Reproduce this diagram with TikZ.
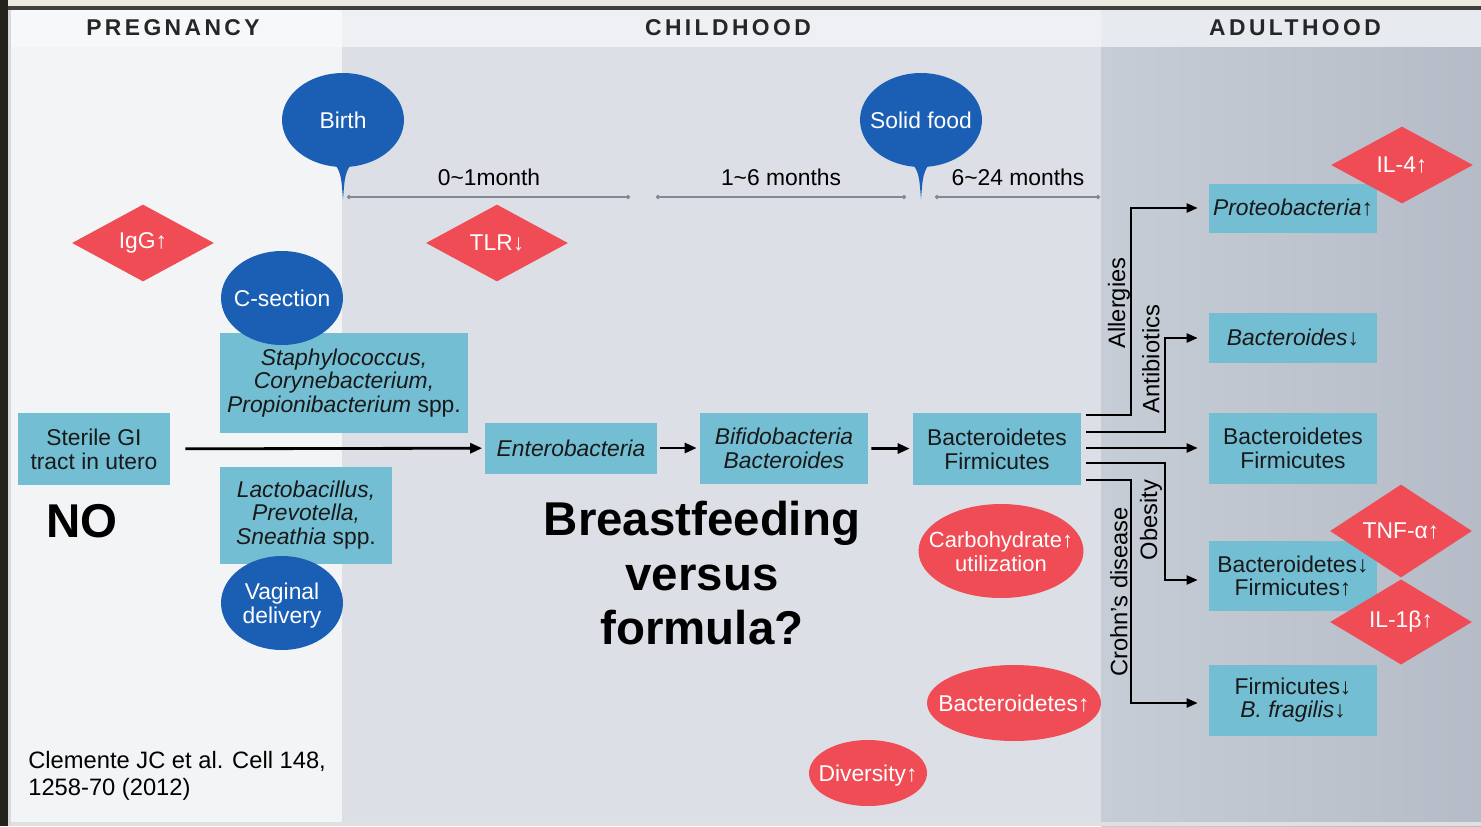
\documentclass[tikz,border=0pt]{standalone}
\usepackage{fontspec}
\setmainfont{Liberation Sans}
\usetikzlibrary{arrows.meta, positioning, calc, shapes.geometric}
\definecolor{bugbox}{RGB}{115,190,211}
\definecolor{eventblue}{RGB}{27,95,181}
\definecolor{markred}{RGB}{239,76,86}
\definecolor{bgPreg}{RGB}{243,244,246}
\definecolor{bgChild}{RGB}{220,224,230}
\definecolor{bgAdultA}{RGB}{199,205,214}
\definecolor{bgAdultB}{RGB}{181,188,199}
\definecolor{headPreg}{RGB}{247,248,249}
\definecolor{headChild}{RGB}{238,240,243}
\definecolor{headAdult}{RGB}{231,234,238}
\definecolor{spanGray}{RGB}{128,138,150}
\definecolor{frameDark}{RGB}{35,35,28}
\definecolor{frameCream}{RGB}{236,234,224}
% text that does not widen its oval
\newcommand{\ovaltext}[1]{\makebox[0pt]{\raisebox{-2pt}[\height][\depth]{\begin{tabular}{@{}c@{}}#1\end{tabular}}}}

\begin{document}
\begin{tikzpicture}[x=0.02cm, y=-0.02cm, font=\fontsize{13}{13.5}\selectfont,
        bug/.style={rectangle, fill=bugbox, inner sep=0pt, align=center, text=black!90},
        event/.style={ellipse, fill=eventblue, inner sep=0pt, text=white,
                      minimum width=2.44cm, minimum height=1.88cm},
        marker/.style={diamond, fill=markred, inner sep=0pt, text=white,
                       minimum width=2.84cm, minimum height=1.54cm},
        blob/.style={ellipse, fill=markred, inner sep=0pt, text=white},
        period/.style={text=black!85, font=\bfseries\fontsize{13}{13}\selectfont\addfontfeatures{LetterSpace=15}},
        flow/.style={-{Triangle[length=0.24cm, width=0.2cm]}, line width=1.6pt},
        branch/.style={-{Triangle[length=0.22cm, width=0.18cm]}, line width=1.3pt},
        agebar/.style={{Circle[length=0.08cm]}-{Circle[length=0.08cm]}, line width=1pt, spanGray},
        cause/.style={rotate=90, inner sep=0pt, font=\fontsize{13.5}{14}\selectfont},
        big/.style={font=\bfseries\fontsize{27}{31}\selectfont, align=center, inner sep=0pt}
    ]
        \useasboundingbox (0,0) rectangle (1481,826);

        % panels
        \fill[bgPreg] (10,10) rectangle (342,826);
        \fill[bgChild] (342,47) rectangle (1101,826);
        \shade[left color=bgAdultA, right color=bgAdultB] (1101,47) rectangle (1481,826);
        \fill[headPreg] (10,10) rectangle (342,47);
        \fill[headChild] (342,10) rectangle (1101,47);
        \fill[headAdult] (1101,10) rectangle (1481,47);
        \fill[frameCream] (0,0) rectangle (1481,6);
        \fill[black!75] (0,6) rectangle (1481,10);
        \fill[frameDark] (0,0) rectangle (8,826);
        \fill[black!15] (8,10) rectangle (11,826);
        \fill[black!12] (11,822) rectangle (1481,826);

        \node[period] (preg)  at (173,28)  {PREGNANCY};
        \node[period] (child) at (728,28)  {CHILDHOOD};
        \node[period] (adult) at (1295,28) {ADULTHOOD};

        % age spans
        \coordinate (a0) at (347,197);  \coordinate (a1) at (630,197);
        \coordinate (a2) at (656,197);  \coordinate (a3) at (906,197);
        \coordinate (a4) at (935,197);  \coordinate (a5) at (1100,197);
        \foreach \s/\e in {a0/a1, a2/a3, a4/a5}
            \draw[agebar] (\s) -- (\e);
        \node (m1) at (489,177)  {0\textasciitilde1month};
        \node (m2) at (781,177)  {1\textasciitilde6 months};
        \node (m3) at (1018,177) {6\textasciitilde24 months};

        % communities
        \node[bug, minimum width=3.04cm, minimum height=1.44cm] (sterile) at (94,449) {Sterile GI\\tract in utero};
        \node[bug, minimum width=4.98cm, minimum height=2.0cm] (staph) at (344,383)
            {\textit{Staphylococcus,}\\\textit{Corynebacterium,}\\\textit{Propionibacterium} spp.};
        \node[bug, minimum width=3.46cm, minimum height=1.94cm] (lacto) at (306,515)
            {\textit{Lactobacillus,}\\\textit{Prevotella,}\\\textit{Sneathia} spp.};
        \node[bug, minimum width=3.44cm, minimum height=1.02cm] (entero) at (571,448) {\textit{Enterobacteria}};
        \node[bug, minimum width=3.36cm, minimum height=1.42cm] (bifido) at (784,448) {\textit{Bifidobacteria}\\\textit{Bacteroides}};
        \node[bug, minimum width=3.36cm, minimum height=1.44cm] (bfmid) at (997,449) {Bacteroidetes\\Firmicutes};
        \node[bug, minimum width=3.36cm, minimum height=0.98cm] (proteo) at (1293,208) {\textit{Proteobacteria}↑};
        \node[bug, minimum width=3.36cm, minimum height=1.0cm] (bacteroides) at (1293,338) {\textit{Bacteroides}↓};
        \node[bug, minimum width=3.36cm, minimum height=1.42cm] (bfright) at (1293,448) {Bacteroidetes\\Firmicutes};
        \node[bug, minimum width=3.36cm, minimum height=1.40cm] (obese) at (1293,576) {Bacteroidetes↓\\Firmicutes↑};
        \node[bug, minimum width=3.36cm, minimum height=1.42cm] (crohn) at (1293,700) {Firmicutes↓\\\textit{B. fragilis}↓};

        % events
        \node[event] (birth)   at (343,120) {\ovaltext{Birth}};
        \node[event] (food)    at (921,120) {\ovaltext{Solid food}};
        \node[event] (csec)    at (282,298) {\ovaltext{C-section}};
        \node[event] (vaginal) at (282,603) {\ovaltext{Vaginal\\delivery}};
        \foreach \e in {birth, food}
            \fill[eventblue] ($(\e.south)+(-11,-8)$) .. controls ($(\e.south)+(-2,6)$) .. ($(\e.south)+(0,32)$)
                .. controls ($(\e.south)+(2,6)$) .. ($(\e.south)+(11,-8)$) -- cycle;

        % markers
        \node[marker] (igg) at (143,243)  {IgG↑};
        \node[marker] (tlr) at (497,243)  {TLR↓};
        \node[marker] (il4) at (1402,165) {IL-4↑};
        \node[marker] (tnf) at (1401,531) {TNF-α↑};
        \node[marker] (il1) at (1401,622) {IL-1β↑};
        \node[blob, minimum width=3.3cm, minimum height=1.88cm, font=\fontsize{12.5}{13.5}\selectfont] (carb) at (1001,551)
            {\ovaltext{Carbohydrate↑\\utilization}};
        \node[blob, minimum width=3.48cm, minimum height=1.52cm] (bactup) at (1014,703) {\ovaltext{Bacteroidetes↑}};
        \node[blob, minimum width=2.36cm, minimum height=1.32cm] (div) at (868,773) {\ovaltext{Diversity↑}};

        % succession
        \draw[flow, shorten <=0.3cm, shorten >=0.05cm] (sterile) -- (entero);
        \foreach \a/\b in {entero/bifido, bifido/bfmid}
            \draw[flow, shorten <=0.06cm, shorten >=0.06cm] (\a) -- (\b);

        % adult outcomes
        \draw[branch] ($(bfmid.east)+(5,-34)$) -| ($(proteo.west)+(-78,0)$) -- ($(proteo.west)+(-11,0)$);
        \draw[branch] ($(bfmid.east)+(5,-17)$) -| ($(bacteroides.west)+(-44,0)$) -- ($(bacteroides.west)+(-11,0)$);
        \draw[branch] ($(bfmid.east)+(5,-1)$) -- ($(bfright.west)+(-11,0)$);
        \draw[branch] ($(bfmid.east)+(5,14)$) -| ($(obese.west)+(-44,4)$) -- ($(obese.west)+(-11,4)$);
        \draw[branch] ($(bfmid.east)+(5,31)$) -| ($(crohn.west)+(-78,3)$) -- ($(crohn.west)+(-11,3)$);
        \node[cause] (allergy) at (1119,303) {Allergies};
        \node[cause] (antibio) at (1151,359) {Antibiotics};
        \node[cause] (obesity) at (1151,520) {Obesity};
        \node[cause] (crohns)  at (1119,592) {Crohn's disease};

        \node[big] (no) at (82,521) {NO};
        \node[big, anchor=north] (feed) at (702,501) {Breastfeeding\\versus\\formula?};
        \node[anchor=north west, align=left, inner sep=0pt, font=\fontsize{13.5}{15.5}\selectfont] (cite) at (28,751)
            {Clemente JC et al. Cell 148,\\1258-70 (2012)};
    \end{tikzpicture}
\end{document}
